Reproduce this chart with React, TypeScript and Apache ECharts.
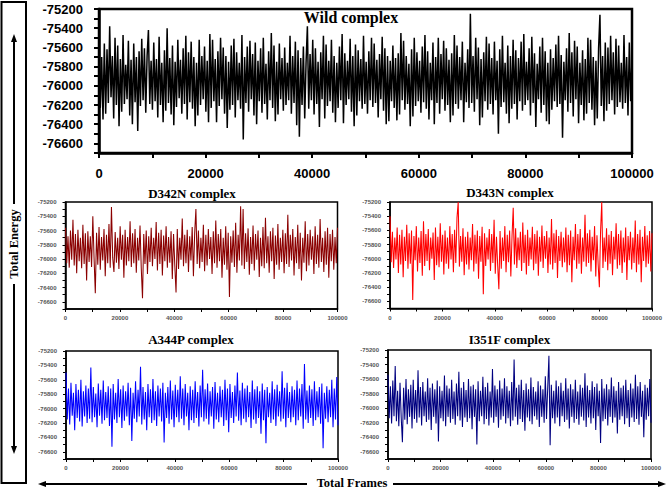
import React, { useEffect, useRef } from "react";
import * as echarts from "echarts";

const panelTitles = ["Wild complex", "D342N complex", "D343N complex", "A344P complex", "I351F complex"];
const panelColors = ["#000000", "#8b0000", "#ff0000", "#0000ff", "#000080"];
const frameMax = 100000;
const energyMin = -76700;
const energyMax = -75200;

const wildEnergy = [
  -75480, -76230, -75700, -76350, -75560, -76290, -75620, -76180, -75380, -76120, -75690, -76340, -75500, -76200, -75580, -76420, -75720, -76270, -75470, -76190,
  -75780, -76140, -75530, -76310, -75730, -76400, -75560, -76170, -75700, -76470, -75640, -76210, -75510, -76150, -75610, -76280, -75690, -75420, -76190, -75740,
  -76250, -75550, -76160, -75720, -76330, -75490, -76200, -75760, -76380, -75630, -76260, -75400, -76180, -75710, -76300, -75580, -76410, -75750, -76220, -75520,
  -76130, -75730, -76290, -75610, -76190, -75480, -76350, -75650, -76170, -75540, -76240, -75700, -76420, -75760, -76310, -75520, -76200, -75690, -76140, -75590,
  -76270, -75740, -76380, -75460, -76230, -75520, -76160, -75720, -76380, -75640, -76210, -75500, -76140, -75600, -76290, -75690, -76440, -75750, -76250, -75580,
  -76200, -75510, -76330, -75650, -76150, -75760, -76240, -75470, -76560, -75700, -76180, -75590, -76270, -75530, -76140, -75670, -76310, -75550, -76400, -75740,
  -76160, -75610, -76280, -75500, -76190, -75770, -76350, -75640, -76150, -75450, -76230, -75580, -76370, -75750, -76300, -75560, -76140, -75710, -76260, -75600,
  -76200, -75760, -76150, -75480, -76290, -75690, -76180, -75540, -76410, -75630, -76530, -75710, -76200, -75590, -76340, -75760, -75380, -76240, -75670, -76150,
  -75520, -76300, -75610, -76190, -75750, -76430, -75650, -76140, -75480, -76340, -75570, -76210, -75740, -76160, -75520, -76280, -75690, -76380, -75760, -76230,
  -75590, -76150, -75460, -76390, -75660, -76200, -75740, -76140, -75510, -76270, -75690, -76420, -75570, -76310, -75630, -76160, -75720, -76240, -75480, -76190,
  -75750, -76290, -75640, -76150, -75500, -76220, -75560, -76180, -75730, -76330, -75670, -76140, -75490, -76260, -75610, -76400, -75690, -76370, -75740, -76160,
  -75580, -76230, -75710, -76360, -75660, -76300, -75450, -76150, -75530, -76250, -75690, -76190, -75770, -76420, -75620, -76320, -75500, -76210, -75650, -76160,
  -75740, -76280, -75590, -76170, -75470, -76240, -75640, -76350, -75760, -76150, -75550, -76400, -75700, -76180, -75500, -76290, -75670, -76140, -75530, -76260,
  -75610, -76200, -75730, -76380, -75660, -76310, -75470, -76190, -75580, -76240, -75700, -76150, -75540, -76380, -75760, -76170, -75620, -76230, -75250, -76180,
  -75690, -76270, -75500, -76140, -75600, -76410, -75720, -76330, -75650, -76160, -75490, -76250, -75560, -76190, -75710, -76300, -75540, -76150, -75740, -76500,
  -75620, -76220, -75480, -76170, -75760, -76290, -75580, -76390, -75690, -76240, -75520, -76190, -75630, -76350, -75710, -76160, -75540, -76260, -75460, -76200,
  -75750, -76150, -75610, -76310, -75490, -76180, -75660, -76430, -75770, -76140, -75590, -76280, -75500, -76200, -75640, -76370, -75760, -76400, -75620, -76250,
  -75710, -76160, -75570, -76220, -75480, -76190, -75680, -76540, -75750, -76150, -75610, -76270, -75450, -76180, -75650, -76320, -75530, -76140, -75590, -76390,
  -75760, -76200, -75630, -76360, -75720, -76290, -75500, -76180, -75520, -76250, -75700, -76410, -75740, -76340, -75610, -75260, -76210, -75690, -76370, -75550,
  -76260, -75600, -76190, -75480, -76150, -75650, -76300, -75510, -76220, -75580, -76170, -75760, -76240, -75470, -76180, -75700, -76310, -75550, -76160, -75720,
];

const d342nEnergy = [
  -75560, -76060, -75680, -76120, -75600, -76010, -75450, -76090, -75650, -76200, -75590, -76030, -75700, -76130, -75520, -76070, -75640, -76300, -75610, -76040,
  -75680, -76110, -75400, -75990, -76480, -75630, -76080, -75550, -76150, -75690, -76020, -75580, -76240, -75660, -76060, -75510, -76120, -75270, -75980, -76180,
  -75620, -76050, -75700, -76140, -75540, -76010, -75660, -76260, -75590, -76090, -75690, -76030, -75470, -76110, -75640, -76060, -75580, -76190, -75700, -76020,
  -75530, -76130, -76550, -75650, -76070, -75600, -76210, -75680, -76040, -75560, -76100, -75700, -76000, -75480, -76160, -75630, -76070, -75590, -76230, -75670,
  -76030, -75540, -76120, -75690, -76050, -75610, -76280, -75650, -76090, -76470, -75580, -76140, -75700, -76010, -75430, -76100, -75660, -76060, -75590, -76180,
  -75680, -76020, -75550, -76240, -75640, -75300, -76070, -75600, -76130, -75700, -76040, -75520, -76170, -75660, -76090, -75580, -76000, -75690, -76210, -75610,
  -76060, -75460, -76120, -75650, -76030, -75580, -76260, -75700, -76080, -75540, -76150, -75630, -76530, -75680, -76050, -75600, -76110, -75490, -76190, -75660,
  -76020, -75260, -76090, -75300, -76140, -75640, -76040, -75570, -76220, -75690, -76070, -75530, -76160, -75650, -76010, -75600, -76250, -75700, -76100, -75550,
  -76130, -75420, -76060, -75680, -76190, -75610, -76030, -75560, -76280, -75670, -76080, -75510, -76150, -75700, -76040, -75590, -76200, -75640, -76070, -75380,
  -76110, -75660, -76020, -75580, -76230, -75690, -76060, -75520, -76140, -75630, -76300, -75700, -76050, -75470, -76170, -75650, -76090, -75590, -76010, -75680,
  -76210, -75540, -76070, -75660, -76120, -75440, -76040, -75700, -76180, -75610, -76080, -75560, -76260, -75650, -76030, -75590, -76150, -75690, -76060, -75560,
];

const d343nEnergy = [
  -75400, -76050, -75620, -76130, -75700, -76010, -75560, -76200, -75660, -76080, -75590, -76260, -75690, -76030, -75520, -76140, -75640, -76070, -75600, -76580,
  -75680, -76020, -75540, -76180, -75700, -76060, -75610, -76240, -75470, -76100, -75650, -76030, -75580, -76160, -75700, -76000, -75630, -76300, -75560, -76090,
  -75690, -76120, -75500, -76040, -75660, -76220, -75600, -76070, -75700, -76140, -75540, -76010, -75650, -76190, -75590, -76060, -75420, -75200, -76110, -75680,
  -76040, -75570, -76230, -75690, -76080, -75620, -76150, -75700, -76020, -75510, -76180, -75660, -76070, -75600, -76280, -75680, -76040, -75550, -76500, -75640,
  -76100, -75700, -76010, -75580, -76170, -75650, -76060, -75450, -76210, -75690, -76090, -76430, -75610, -76140, -75700, -76030, -75540, -76190, -75660, -76050,
  -75600, -76250, -75680, -75280, -76080, -75570, -76130, -75700, -76020, -75620, -76170, -75490, -76060, -75660, -76220, -75590, -76100, -75700, -76010, -75550,
  -76160, -75650, -76070, -75600, -76240, -75690, -76040, -75530, -76130, -75680, -76000, -75610, -76200, -75700, -76080, -75440, -76150, -75640, -76060, -75590,
  -76270, -75680, -76030, -75620, -76120, -75700, -76050, -75560, -76190, -75660, -76090, -75600, -76330, -75690, -76020, -75510, -76140, -75650, -76070, -75580,
  -76210, -75700, -76040, -75380, -76110, -75640, -76060, -75590, -76180, -75690, -76020, -75540, -76250, -75670, -76080, -76400, -75620, -75200, -76130, -75700,
  -76040, -75570, -76160, -75660, -76070, -75610, -76230, -75690, -76010, -75500, -76140, -75650, -76090, -75600, -76200, -75700, -76050, -75560, -76300, -75680,
  -76020, -75620, -76150, -75700, -76060, -75460, -76190, -75650, -76080, -75590, -76330, -75690, -76030, -75540, -76120, -75670, -76070, -75610, -76180, -75640,
];

const a344pEnergy = [
  -75500, -76150, -75720, -76220, -75640, -76100, -75780, -76300, -75660, -76130, -75740, -76180, -75600, -76250, -75760, -76110, -75680, -76200, -75720, -76140,
  -75430, -76190, -75700, -76120, -75790, -76260, -75650, -76100, -75740, -76210, -75610, -76160, -75770, -76130, -75690, -76240, -75720, -76530, -75660, -76150,
  -75780, -76200, -75590, -76120, -75730, -76270, -75680, -76170, -75760, -76110, -75640, -76230, -75710, -76450, -75780, -76140, -75620, -76190, -75740, -76110,
  -75420, -76220, -75700, -76150, -75770, -76300, -75660, -76120, -75730, -76200, -75590, -76160, -75760, -76240, -75680, -76110, -75720, -76180, -75640, -76470,
  -75780, -76130, -75700, -76210, -75610, -76150, -75750, -76260, -75670, -76120, -75740, -76190, -75550, -76140, -75720, -76230, -75660, -76110, -75780, -76300,
  -75690, -76160, -75740, -76200, -75620, -76130, -75770, -76250, -75680, -76120, -75460, -76180, -75730, -76140, -75650, -76220, -75760, -76110, -75700, -76280,
  -75630, -76150, -75780, -76190, -75690, -76120, -75740, -76240, -75600, -76160, -75720, -76330, -75660, -76130, -75770, -76200, -75680, -76110, -75500, -76170,
  -75750, -76230, -75640, -76140, -75720, -76190, -75680, -76120, -75770, -76270, -75610, -76150, -75730, -76210, -75690, -76130, -75760, -76350, -75650, -76160,
  -75740, -76480, -75700, -76120, -75780, -76200, -75620, -76150, -75730, -76240, -75670, -76110, -75760, -76180, -75480, -76140, -75710, -76260, -75640, -76130,
  -75770, -76190, -75690, -76120, -75740, -76230, -75610, -76160, -75720, -76110, -75660, -76280, -75380, -76150, -75750, -76200, -75680, -76130, -75730, -76240,
  -75620, -76160, -75760, -76120, -75700, -76210, -75650, -76550, -75780, -76140, -75690, -76190, -75740, -76120, -75600, -76260, -75720, -76150, -75560, -76230,
];

const i351fEnergy = [
  -75540, -76140, -75700, -76210, -75620, -76110, -75420, -76180, -75760, -76250, -75650, -76130, -76470, -75720, -76160, -75600, -76220, -75740, -76120, -75680,
  -76280, -75610, -76150, -75750, -76200, -75480, -76130, -75710, -76240, -75640, -76110, -75770, -76190, -75590, -76160, -75720, -76300, -75660, -76120, -75740,
  -76210, -75620, -76460, -75700, -76140, -75760, -76180, -75550, -76250, -75690, -76120, -75730, -76200, -75610, -76150, -75770, -76230, -75660, -76110, -75500,
  -76170, -75720, -76260, -75640, -76130, -75750, -76190, -75600, -76140, -75700, -76290, -75680, -76120, -75740, -76500, -75630, -76180, -75760, -76110, -75570,
  -76220, -75710, -76150, -75650, -76240, -75770, -76130, -75460, -76200, -75690, -76120, -75740, -76270, -75620, -76160, -75730, -76110, -75590, -76210, -75700,
  -76140, -75760, -76250, -75640, -76170, -75330, -76120, -75720, -76230, -75680, -76150, -75610, -76190, -75750, -76310, -75660, -76130, -75740, -76180, -75580,
  -76220, -75710, -76110, -75770, -76160, -75630, -76260, -75690, -76120, -75740, -76200, -75560, -76150, -75720, -75280, -76510, -75680, -76140, -75760, -76210,
  -75620, -76130, -75700, -76250, -75650, -76110, -75760, -76190, -75590, -76160, -75730, -76280, -75670, -76120, -75740, -76200, -75610, -76150, -75770, -76230,
  -75680, -76120, -75720, -76170, -75520, -76260, -75690, -76130, -75750, -76210, -75630, -76140, -75710, -76300, -75660, -76110, -75760, -76480, -75600, -76180,
  -75730, -76150, -75670, -76240, -75740, -76120, -75580, -76200, -75700, -76130, -75760, -76350, -75640, -76160, -75720, -76110, -75690, -76220, -75610, -76140,
  -75750, -76260, -75660, -76130, -75730, -76190, -75540, -76150, -75700, -76230, -75640, -76120, -75760, -76400, -75680, -76160, -75720, -76110, -75600, -76200,
];

const panelData = [wildEnergy, d342nEnergy, d343nEnergy, a344pEnergy, i351fEnergy];

// layout of each plot box (px)
const grids = [
  { left: 99, top: 9, width: 533, height: 144 },
  { left: 65.5, top: 202, width: 272, height: 107 },
  { left: 390, top: 202, width: 262, height: 106.5 },
  { left: 66, top: 351, width: 272, height: 108 },
  { left: 388, top: 350, width: 263, height: 109 },
];
const titlePos = [
  [351, 17, 16],
  [192, 193, 13],
  [510, 192.5, 13],
  [191, 339, 13],
  [509.5, 339, 13],
];

function toPairs(values: number[]) {
  const n = values.length;
  return values.map((v, i) => [(i * frameMax) / (n - 1), v]);
}

export default function App() {
  const ref = useRef<HTMLDivElement>(null);
  useEffect(() => {
    if (!ref.current) return;
    const chart = echarts.init(ref.current, null, { renderer: "svg" });
    const grid: any[] = [];
    const xAxis: any[] = [];
    const yAxis: any[] = [];
    const series: any[] = [];
    grids.forEach((g, i) => {
      const big = i === 0;
      const lw = big ? 2.5 : 1.5;
      grid.push({ ...g, show: true, borderColor: "#000", borderWidth: lw, backgroundColor: "transparent" });
      xAxis.push({
        type: "value",
        gridIndex: i,
        min: 0,
        max: frameMax,
        interval: 10000,
        splitLine: { show: false },
        axisLine: { lineStyle: { color: "#000", width: lw } },
        axisTick: { length: big ? 5 : 3, lineStyle: { color: "#000", width: big ? 2 : 1 } },
        axisLabel: {
          margin: big ? 14 : 6,
          fontSize: big ? 13 : 6,
          fontWeight: "bold",
          fontFamily: "Liberation Sans, Arial, sans-serif",
          color: big ? "#000" : "#555",
          formatter: (v: number) => (v % 20000 === 0 ? String(v) : ""),
        },
      });
      yAxis.push({
        type: "value",
        gridIndex: i,
        min: energyMin,
        max: energyMax,
        interval: 100,
        splitLine: { show: false },
        axisLine: { lineStyle: { color: "#000", width: lw } },
        axisTick: { length: big ? 5 : 3, lineStyle: { color: "#000", width: big ? 2 : 1 } },
        axisLabel: {
          margin: big ? 16 : 9,
          fontSize: big ? 13 : 6,
          fontWeight: "bold",
          fontFamily: "Liberation Sans, Arial, sans-serif",
          color: big ? "#000" : "#555",
          formatter: (v: number) => (v % 200 === 0 ? String(v) : ""),
        },
      });
      series.push({
        type: "line",
        name: panelTitles[i],
        xAxisIndex: i,
        yAxisIndex: i,
        data: toPairs(panelData[i]),
        showSymbol: false,
        symbol: "none",
        lineStyle: { color: panelColors[i], width: big ? 1.5 : 1.05 },
        z: 2,
      });
    });

    const serif = "Liberation Serif, Times New Roman, serif";
    const graphic: any[] = [];
    panelTitles.forEach((t, i) => {
      graphic.push({
        type: "text",
        x: titlePos[i][0],
        y: titlePos[i][1],
        z: 100,
        style: {
          text: t,
          font: `bold ${titlePos[i][2]}px ${serif}`,
          fill: "#000",
          textAlign: "center",
          textVerticalAlign: "middle",
        },
      });
    });
    // left frame with "Total Energy", bottom arrow with "Total Frames"
    graphic.push(
      { type: "rect", shape: { x: 1.5, y: 2, width: 24.5, height: 481 }, style: { fill: "none", stroke: "#000", lineWidth: 2 } },
      { type: "line", shape: { x1: 14, y1: 40, x2: 14, y2: 204 }, style: { stroke: "#000", lineWidth: 2 } },
      { type: "line", shape: { x1: 14, y1: 284, x2: 14, y2: 448 }, style: { stroke: "#000", lineWidth: 2 } },
      { type: "polygon", shape: { points: [[14, 34], [11, 42], [17, 42]] }, style: { fill: "#000" } },
      { type: "polygon", shape: { points: [[14, 454], [11, 446], [17, 446]] }, style: { fill: "#000" } },
      {
        type: "text",
        x: 14,
        y: 244,
        rotation: Math.PI / 2,
        style: { text: "Total Energy", font: `bold 12.5px ${serif}`, fill: "#000", textAlign: "center", textVerticalAlign: "middle" },
      },
      { type: "line", shape: { x1: 44, y1: 484, x2: 307, y2: 484 }, style: { stroke: "#000", lineWidth: 2 } },
      { type: "line", shape: { x1: 393, y1: 484, x2: 660, y2: 484 }, style: { stroke: "#000", lineWidth: 2 } },
      { type: "polygon", shape: { points: [[38, 484], [46, 481], [46, 487]] }, style: { fill: "#000" } },
      { type: "polygon", shape: { points: [[666, 484], [658, 481], [658, 487]] }, style: { fill: "#000" } },
      {
        type: "text",
        x: 352,
        y: 483,
        style: { text: "Total Frames", font: `bold 12.5px ${serif}`, fill: "#000", textAlign: "center", textVerticalAlign: "middle" },
      }
    );

    chart.setOption({
      animation: false,
      backgroundColor: "#fff",
      grid,
      xAxis,
      yAxis,
      series,
      graphic,
    });
    return () => chart.dispose();
  }, []);
  return <div ref={ref} style={{ position: "absolute", left: 0, top: 0, width: 667, height: 489 }} />;
}
